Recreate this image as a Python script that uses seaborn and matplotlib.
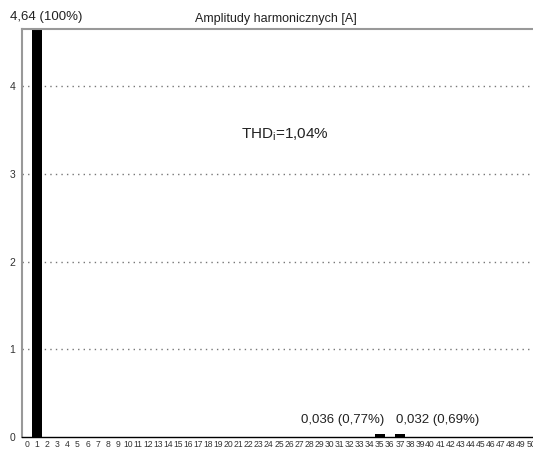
import matplotlib
matplotlib.use("Agg")
import matplotlib.pyplot as plt
import seaborn as sns
import pandas as pd

# Harmonic orders and current amplitudes [A]
harmonics = list(range(0, 51))
amplitudes = [0.0] * 51
amplitudes[1] = 4.64
amplitudes[35] = 0.036
amplitudes[37] = 0.032

fundamental_label = "4,64 (100%)"
h35_label = "0,036 (0,77%)"
h37_label = "0,032 (0,69%)"
thd_text = "THD$_\\mathregular{i}$=1,04%"
title = "Amplitudy harmonicznych [A]"
y_ticks = [0, 1, 2, 3, 4]

sns.set_theme(style="white")
plt.rcParams["font.family"] = ["Liberation Sans", "DejaVu Sans"]

df = pd.DataFrame({"h": harmonics, "a": amplitudes})

fig = plt.figure(figsize=(5.33, 4.5), dpi=100)
ax = fig.add_axes([22 / 533, 1 - 437 / 450, (536 - 22) / 533, (437 - 29) / 450])

sns.barplot(data=df, x="h", y="a", order=harmonics, color="black",
            width=1.0, saturation=1, ax=ax, edgecolor="none")

ax.set_xlim(-0.5, 50.5)
ax.set_ylim(0, 4.65)
ax.set_xlabel("")
ax.set_ylabel("")
ax.set_yticks(y_ticks)
ax.set_yticklabels([str(v) for v in y_ticks], fontsize=7.5, color="#333333")
ax.set_xticks(range(len(harmonics)))
ax.set_xticklabels([str(h) for h in harmonics], fontsize=6.2, color="#333333")
ax.tick_params(axis="both", length=0, pad=2)
ax.tick_params(axis="y", pad=5)

for yv in y_ticks[1:]:
    ax.axhline(yv, color="#777777", lw=1.0, ls=(0, (1, 3)), zorder=0)

for side in ["left", "top"]:
    ax.spines[side].set_color("#999999")
    ax.spines[side].set_linewidth(1.5)
ax.spines["right"].set_visible(False)
ax.spines["bottom"].set_color("black")
ax.spines["bottom"].set_linewidth(1.0)

fig.text(10 / 533, 1 - 17 / 450, fundamental_label, fontsize=9.5,
         ha="left", va="center", color="#222222")
fig.text(276 / 533, 1 - 19 / 450, title, fontsize=9,
         ha="center", va="center", color="#222222")

ax.text(21.2, 3.45, thd_text, fontsize=11, ha="left", va="center", color="#222222")
ax.text(35.4, 0.13, h35_label, fontsize=9.5, ha="right", va="bottom", color="#222222")
ax.text(36.6, 0.13, h37_label, fontsize=9.5, ha="left", va="bottom", color="#222222")

fig.savefig("out.png", dpi=100)
